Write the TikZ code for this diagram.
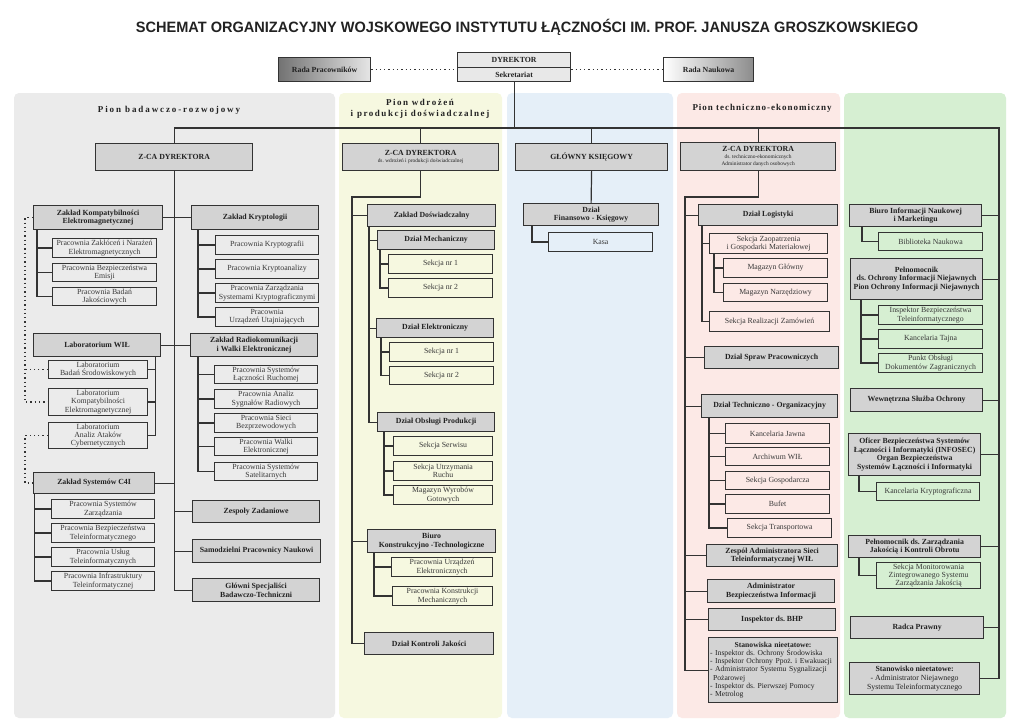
\documentclass[tikz,border=0pt]{standalone}
\usepackage{fontspec}
\setmainfont{Liberation Serif}
\newfontfamily\titlefont{Liberation Sans}
\newfontfamily\pionA[LetterSpace=21]{Liberation Serif}
\newfontfamily\pionB[LetterSpace=17]{Liberation Serif}
\newfontfamily\pionC[LetterSpace=11]{Liberation Serif}
\usetikzlibrary{calc}
\frenchspacing
\definecolor{pgray}{HTML}{EBEBEB}
\definecolor{pyel}{HTML}{F6F8E0}
\definecolor{pblue}{HTML}{E5EFF8}
\definecolor{ppink}{HTML}{FCE9E6}
\definecolor{pgreen}{HTML}{D6EFD2}
\definecolor{hdr}{HTML}{D3D3D3}
\definecolor{ln}{HTML}{333333}
\definecolor{txt}{HTML}{222222}
\definecolor{dyrfill}{HTML}{E8E8E8}
\newcommand{\ob}[7][]{%
  \pgfmathsetmacro{\obw}{#5-#3}%
  \pgfmathsetmacro{\obh}{#6-#4}%
  \node[#1, anchor=north west, minimum width=\obw pt, minimum height=\obh pt] (#2) at (#3,#4) {#7};%
}
\tikzset{
  hbox/.style={draw=ln, fill=hdr, line width=1.2pt, font=\fontsize{7.8}{8.6}\selectfont\bfseries, align=center, inner sep=0pt, text=txt},
  cbox/.style={draw=ln, line width=1.1pt, font=\fontsize{7.8}{8.4}\selectfont, align=center, inner sep=0pt, text=txt!90},
  dyrbox/.style={draw=ln, fill=dyrfill, line width=1.2pt, font=\fontsize{7.8}{8.6}\selectfont\bfseries, align=center, inner sep=0pt, text=txt},
  rpbox/.style={draw=ln, line width=1.2pt, left color=black!55, right color=black!10, font=\fontsize{7.8}{8.6}\selectfont\bfseries, inner sep=0pt, text=txt},
  rnbox/.style={draw=ln, line width=1.2pt, left color=white, right color=black!45, font=\fontsize{7.8}{8.6}\selectfont\bfseries, inner sep=0pt, text=txt},
  conn/.style={draw=ln, line width=1.2pt},
  dotlink/.style={draw=ln, line width=1.3pt, dash pattern=on 1.3pt off 3pt},
  plabel/.style={text=txt, inner sep=0pt},
  panelbg/.style={rounded corners=5pt}
}
\begin{document}
\frenchspacing
\begin{tikzpicture}[x=1pt,y=-1pt]
\useasboundingbox (0,0) rectangle (1024,725);
\fill[white] (0,0) rectangle (1024,725);
% panels
\fill[pgray,panelbg] (14,93) rectangle (335,718);
\fill[pyel,panelbg] (339,93) rectangle (502,718);
\fill[pblue,panelbg] (507,93) rectangle (673,718);
\fill[ppink,panelbg] (677,93) rectangle (840,718);
\fill[pgreen,panelbg] (844,93) rectangle (1006,718);
% title
\node[text=txt, inner sep=0pt] (title) at (527,27) {\titlefont\bfseries\fontsize{15}{18}\selectfont\scalebox{0.97}[1]{SCHEMAT ORGANIZACYJNY WOJSKOWEGO INSTYTUTU ŁĄCZNOŚCI IM. PROF. JANUSZA GROSZKOWSKIEGO}};
% panel labels
\node[plabel, font=\pionA\bfseries\fontsize{9}{11}\selectfont] (pl1) at (169,110) {Pion badawczo-rozwojowy};
\node[plabel, align=center, font=\pionB\bfseries\fontsize{9}{11}\selectfont] (pl2) at (420,109) {Pion wdrożeń\\i produkcji doświadczalnej};
\node[plabel, font=\pionC\bfseries\fontsize{9}{11}\selectfont] (pl4) at (762,108) {Pion techniczno-ekonomiczny};
% top
\ob[rpbox]{rp}{278}{57}{370}{81}{Rada Pracowników}
\ob[dyrbox]{dyr}{457}{52}{570}{67}{DYREKTOR}
\ob[dyrbox]{sek}{457}{67}{570}{81}{Sekretariat}
\ob[rnbox]{rn}{663}{57}{753}{81}{Rada Naukowa}
% level 1
\ob[hbox]{zca1}{95}{143}{252}{170}{Z-CA DYREKTORA}
\ob[hbox]{zca2}{342}{143}{498}{170}{Z-CA DYREKTORA\\[-1pt]{\mdseries\fontsize{5.4}{6.4}\selectfont ds. wdrożeń i produkcji doświadczalnej}}
\ob[hbox]{gk}{515}{143}{667}{170}{GŁÓWNY KSIĘGOWY}
\ob[hbox]{zca4}{680}{142}{835}{170}{Z-CA DYREKTORA\\[-1.5pt]{\mdseries\fontsize{5.4}{6.4}\selectfont ds. techniczno-ekonomicznych}\\[-1.5pt]{\mdseries\fontsize{5.4}{6.4}\selectfont Administrator danych osobowych}}
% column 1
\ob[hbox]{zke}{33}{205}{162}{229}{Zakład Kompatybilności\\Elektromagnetycznej}
\ob[hbox]{zkr}{191}{205}{318}{229}{Zakład Kryptologii}
\ob[cbox]{ke1}{52}{238}{156}{257}{Pracownia Zakłóceń i Narażeń\\Elektromagnetycznych}
\ob[cbox]{ke2}{52}{263}{156}{281}{Pracownia Bezpieczeństwa\\Emisji}
\ob[cbox]{ke3}{52}{287}{156}{305}{Pracownia Badań\\Jakościowych}
\ob[cbox]{kr1}{215}{235}{318}{254}{Pracownia Kryptografii}
\ob[cbox]{kr2}{215}{259}{318}{278}{Pracownia Kryptoanalizy}
\ob[cbox]{kr3}{215}{283}{318}{302}{Pracownia Zarządzania\\Systemami Kryptograficznymi}
\ob[cbox]{kr4}{215}{307}{318}{326}{Pracownia\\Urządzeń Utajniających}
\ob[hbox]{lab}{33}{333}{160}{356}{Laboratorium WIŁ}
\ob[hbox]{zrk}{190}{333}{317}{356}{Zakład Radiokomunikacji\\i Walki Elektronicznej}
\ob[cbox]{lb1}{48}{360}{147}{378}{Laboratorium\\Badań Środowiskowych}
\ob[cbox]{lb2}{48}{388}{147}{415}{Laboratorium\\Kompatybilności\\Elektromagnetycznej}
\ob[cbox]{lb3}{48}{422}{147}{448}{Laboratorium\\Analiz Ataków\\Cybernetycznych}
\ob[cbox]{rk1}{214}{365}{317}{383}{Pracownia Systemów\\Łączności Ruchomej}
\ob[cbox]{rk2}{214}{389}{317}{408}{Pracownia Analiz\\Sygnałów Radiowych}
\ob[cbox]{rk3}{214}{413}{317}{432}{Pracownia Sieci\\Bezprzewodowych}
\ob[cbox]{rk4}{214}{437}{317}{455}{Pracownia Walki\\Elektronicznej}
\ob[cbox]{rk5}{214}{462}{317}{480}{Pracownia Systemów\\Satelitarnych}
\ob[hbox]{c4i}{33}{472}{154}{493}{Zakład Systemów C4I}
\ob[cbox]{c41}{51}{499}{154}{518}{Pracownia Systemów\\Zarządzania}
\ob[cbox]{c42}{51}{523}{154}{542}{Pracownia Bezpieczeństwa\\Teleinformatycznego}
\ob[cbox]{c43}{51}{547}{154}{566}{Pracownia Usług\\Teleinformatycznych}
\ob[cbox]{c44}{51}{571}{154}{590}{Pracownia Infrastruktury\\Teleinformatycznej}
\ob[hbox]{zz}{192}{500}{319}{522}{Zespoły Zadaniowe}
\ob[hbox]{spn}{192}{539}{320}{562}{Samodzielni Pracownicy Naukowi}
\ob[hbox]{gs}{192}{578}{319}{601}{Główni Specjaliści\\Badawczo-Techniczni}
% column 2
\ob[hbox]{zd}{367}{204}{495}{226}{Zakład Doświadczalny}
\ob[hbox]{dm}{377}{230}{494}{249}{Dział Mechaniczny}
\ob[cbox]{dm1}{388}{254}{492}{273}{Sekcja nr 1}
\ob[cbox]{dm2}{388}{278}{492}{297}{Sekcja nr 2}
\ob[hbox]{de}{376}{318}{493}{337}{Dział Elektroniczny}
\ob[cbox]{de1}{389}{342}{493}{361}{Sekcja nr 1}
\ob[cbox]{de2}{389}{366}{493}{384}{Sekcja nr 2}
\ob[hbox]{dop}{377}{412}{494}{431}{Dział Obsługi Produkcji}
\ob[cbox]{dp1}{393}{436}{492}{455}{Sekcja Serwisu}
\ob[cbox]{dp2}{393}{461}{492}{480}{Sekcja Utrzymania\\Ruchu}
\ob[cbox]{dp3}{393}{485}{492}{504}{Magazyn Wyrobów\\Gotowych}
\ob[hbox]{bkt}{367}{529}{495}{552}{Biuro\\Konstrukcyjno -Technologiczne}
\ob[cbox]{bk1}{391}{557}{492}{576}{Pracownia Urządzeń\\Elektronicznych}
\ob[cbox]{bk2}{392}{586}{492}{605}{Pracownia Konstrukcji\\Mechanicznych}
\ob[hbox]{dkj}{364}{632}{493}{654}{Dział Kontroli Jakości}
% column 3
\ob[hbox]{dfk}{523}{203}{658}{225}{Dział\\Finansowo - Księgowy}
\ob[cbox]{kasa}{548}{232}{652}{251}{Kasa}
% column 4
\ob[hbox]{dl}{698}{204}{837}{225}{Dział Logistyki}
\ob[cbox]{sz}{709}{233}{827}{253}{Sekcja Zaopatrzenia\\i Gospodarki Materiałowej}
\ob[cbox]{mg}{723}{258}{827}{277}{Magazyn Główny}
\ob[cbox]{mn}{723}{283}{827}{301}{Magazyn Narzędziowy}
\ob[cbox]{srz}{709}{311}{829}{331}{Sekcja Realizacji Zamówień}
\ob[hbox]{dsp}{704}{346}{838}{368}{Dział Spraw Pracowniczych}
\ob[hbox]{dto}{701}{394}{837}{417}{Dział Techniczno - Organizacyjny}
\ob[cbox]{kj}{725}{423}{829}{443}{Kancelaria Jawna}
\ob[cbox]{aw}{725}{447}{829}{465}{Archiwum WIŁ}
\ob[cbox]{sg}{725}{471}{829}{489}{Sekcja Gospodarcza}
\ob[cbox]{bf}{725}{494}{829}{513}{Bufet}
\ob[cbox]{st}{727}{518}{831}{537}{Sekcja Transportowa}
\ob[hbox]{zas}{706}{544}{837}{566}{Zespół Administratora Sieci\\Teleinformatycznej WIŁ}
\ob[hbox]{abi}{707}{579}{834}{602}{Administrator\\Bezpieczeństwa Informacji}
\ob[hbox]{bhp}{708}{608}{835}{630}{Inspektor ds. BHP}
\ob[hbox, align=left, text width=126pt, inner xsep=1.5pt, font=\fontsize{7.6}{8.3}\selectfont]{sn}{708}{637}{837}{702}{\makebox[126pt]{\bfseries Stanowiska nieetatowe:}\\- Inspektor ds. Ochrony Środowiska\\- Inspektor Ochrony Ppoż. i Ewakuacji\\- Administrator Systemu Sygnalizacji\\\hspace*{3pt}Pożarowej\\- Inspektor ds. Pierwszej Pomocy\\- Metrolog}
% column 5
\ob[hbox]{bin}{849}{204}{981}{226}{Biuro Informacji Naukowej\\i Marketingu}
\ob[cbox]{bn}{878}{232}{982}{250}{Biblioteka Naukowa}
\ob[hbox]{pel}{850}{258}{982}{299}{Pełnomocnik\\ds. Ochrony Informacji Niejawnych\\Pion Ochrony Informacji Niejawnych}
\ob[cbox]{ib}{878}{305}{982}{324}{Inspektor Bezpieczeństwa\\Teleinformatycznego}
\ob[cbox]{kt}{878}{329}{982}{348}{Kancelaria Tajna}
\ob[cbox]{po}{878}{353}{982}{372}{Punkt Obsługi\\Dokumentów Zagranicznych}
\ob[hbox]{wso}{850}{388}{982}{411}{Wewnętrzna Służba Ochrony}
\ob[hbox]{of}{848}{433}{980}{475}{Oficer Bezpieczeństwa Systemów\\Łączności i Informatyki (INFOSEC)\\Organ Bezpieczeństwa\\Systemów Łączności i Informatyki}
\ob[cbox]{kk}{876}{482}{979}{500}{Kancelaria Kryptograficzna}
\ob[hbox]{pz}{848}{535}{980}{557}{Pełnomocnik ds. Zarządzania\\Jakością i Kontroli Obrotu}
\ob[cbox]{sm}{876}{562}{980}{588}{Sekcja Monitorowania\\Zintegrowanego Systemu\\Zarządzania Jakością}
\ob[hbox]{rpr}{850}{616}{983}{638}{Radca Prawny}
\ob[hbox]{sn2}{849}{662}{979}{694}{Stanowisko nieetatowe:\\{\mdseries - Administrator Niejawnego}\\{\mdseries Systemu Teleinformatycznego}}
% coordinates
\coordinate (busR) at (999,128);
\coordinate (s2) at (352,197);
\coordinate (s4) at (685,197);
\coordinate (dotx) at (25,0);
% top connectors
\draw[dotlink] (rp.east) -- (rp.east -| sek.west);
\draw[dotlink] (sek.east |- rn.west) -- (rn.west);
\draw[conn] (sek.south) -- (sek.south |- busR);
\draw[conn] (zca1.north) |- (busR) -- (busR |- sn2.east) -- (sn2.east);
\draw[conn] (zca2.north) -- (zca2.north |- busR);
\draw[conn] (gk.north) -- (gk.north |- busR);
\draw[conn] (zca4.north) -- (zca4.north |- busR);
% column 1
\draw[conn] (zca1.south) |- (gs.west);
\draw[conn] (zke.east) -- (zkr.west);
\draw[conn] (lab.east) -- (zrk.west);
\draw[conn] (c4i.east) -- (c4i.east -| zca1.south);
\draw[conn] (zz.west) -- (zz.west -| zca1.south);
\draw[conn] (spn.west) -- (spn.west -| zca1.south);
\foreach \c in {ke1,ke2,ke3} \draw[conn] ([xshift=4pt]zke.south west) |- (\c.west);
\foreach \c in {kr1,kr2,kr3,kr4} \draw[conn] ([xshift=7pt]zkr.south west) |- (\c.west);
\foreach \c in {lb1,lb2,lb3} \draw[conn] ([xshift=-6pt]lab.south east) |- (\c.east);
\foreach \c in {rk1,rk2,rk3,rk4,rk5} \draw[conn] ([xshift=8pt]zrk.south west) |- (\c.west);
\foreach \c in {c41,c42,c43,c44} \draw[conn] ([xshift=1.5pt]c4i.south west) |- (\c.west);
\draw[dotlink] (zke.west) -- (zke.west -| dotx) |- (lb2.west);
\draw[dotlink] (lb1.west) -- (lb1.west -| dotx);
\draw[dotlink] (lb3.west) -- (lb3.west -| dotx) |- (c4i.west);
% column 2
\draw[conn] (zca2.south) |- (s2) |- (dkj.west);
\draw[conn] (s2) |- (zd.west);
\draw[conn] (s2) |- (bkt.west);
\foreach \c in {dm,de,dop} \draw[conn] ([xshift=2pt]zd.south west) |- (\c.west);
\foreach \c in {dm1,dm2} \draw[conn] ([xshift=3pt]dm.south west) |- (\c.west);
\foreach \c in {de1,de2} \draw[conn] ([xshift=5pt]de.south west) |- (\c.west);
\foreach \c in {dp1,dp2,dp3} \draw[conn] ([xshift=7pt]dop.south west) |- (\c.west);
\foreach \c in {bk1,bk2} \draw[conn] ([xshift=7pt]bkt.south west) |- (\c.west);
% column 3
\draw[conn] (gk.south) -- (dfk.north);
\draw[conn] ([xshift=9pt]dfk.south west) |- (kasa.west);
% column 4
\draw[conn] (zca4.south) |- (s4) |- (sn.west);
\foreach \c in {dl,dsp,dto,zas,abi,bhp} \draw[conn] (s4) |- (\c.west);
\foreach \c in {sz,srz} \draw[conn] ([xshift=4pt]dl.south west) |- (\c.west);
\foreach \c in {mg,mn} \draw[conn] ([xshift=5pt]sz.south west) |- (\c.west);
\foreach \c in {kj,aw,sg,bf,st} \draw[conn] ([xshift=8pt]dto.south west) |- (\c.west);
% column 5
\foreach \c in {bin,pel,wso,of,pz,rpr} \draw[conn] (\c.east) -- (\c.east -| busR);
\draw[conn] ([xshift=13pt]bin.south west) |- (bn.west);
\foreach \c in {ib,kt,po} \draw[conn] ([xshift=11pt]pel.south west) |- (\c.west);
\draw[conn] ([xshift=11pt]of.south west) |- (kk.west);
\draw[conn] ([xshift=11pt]pz.south west) |- (sm.west);
\end{tikzpicture}
\end{document}
